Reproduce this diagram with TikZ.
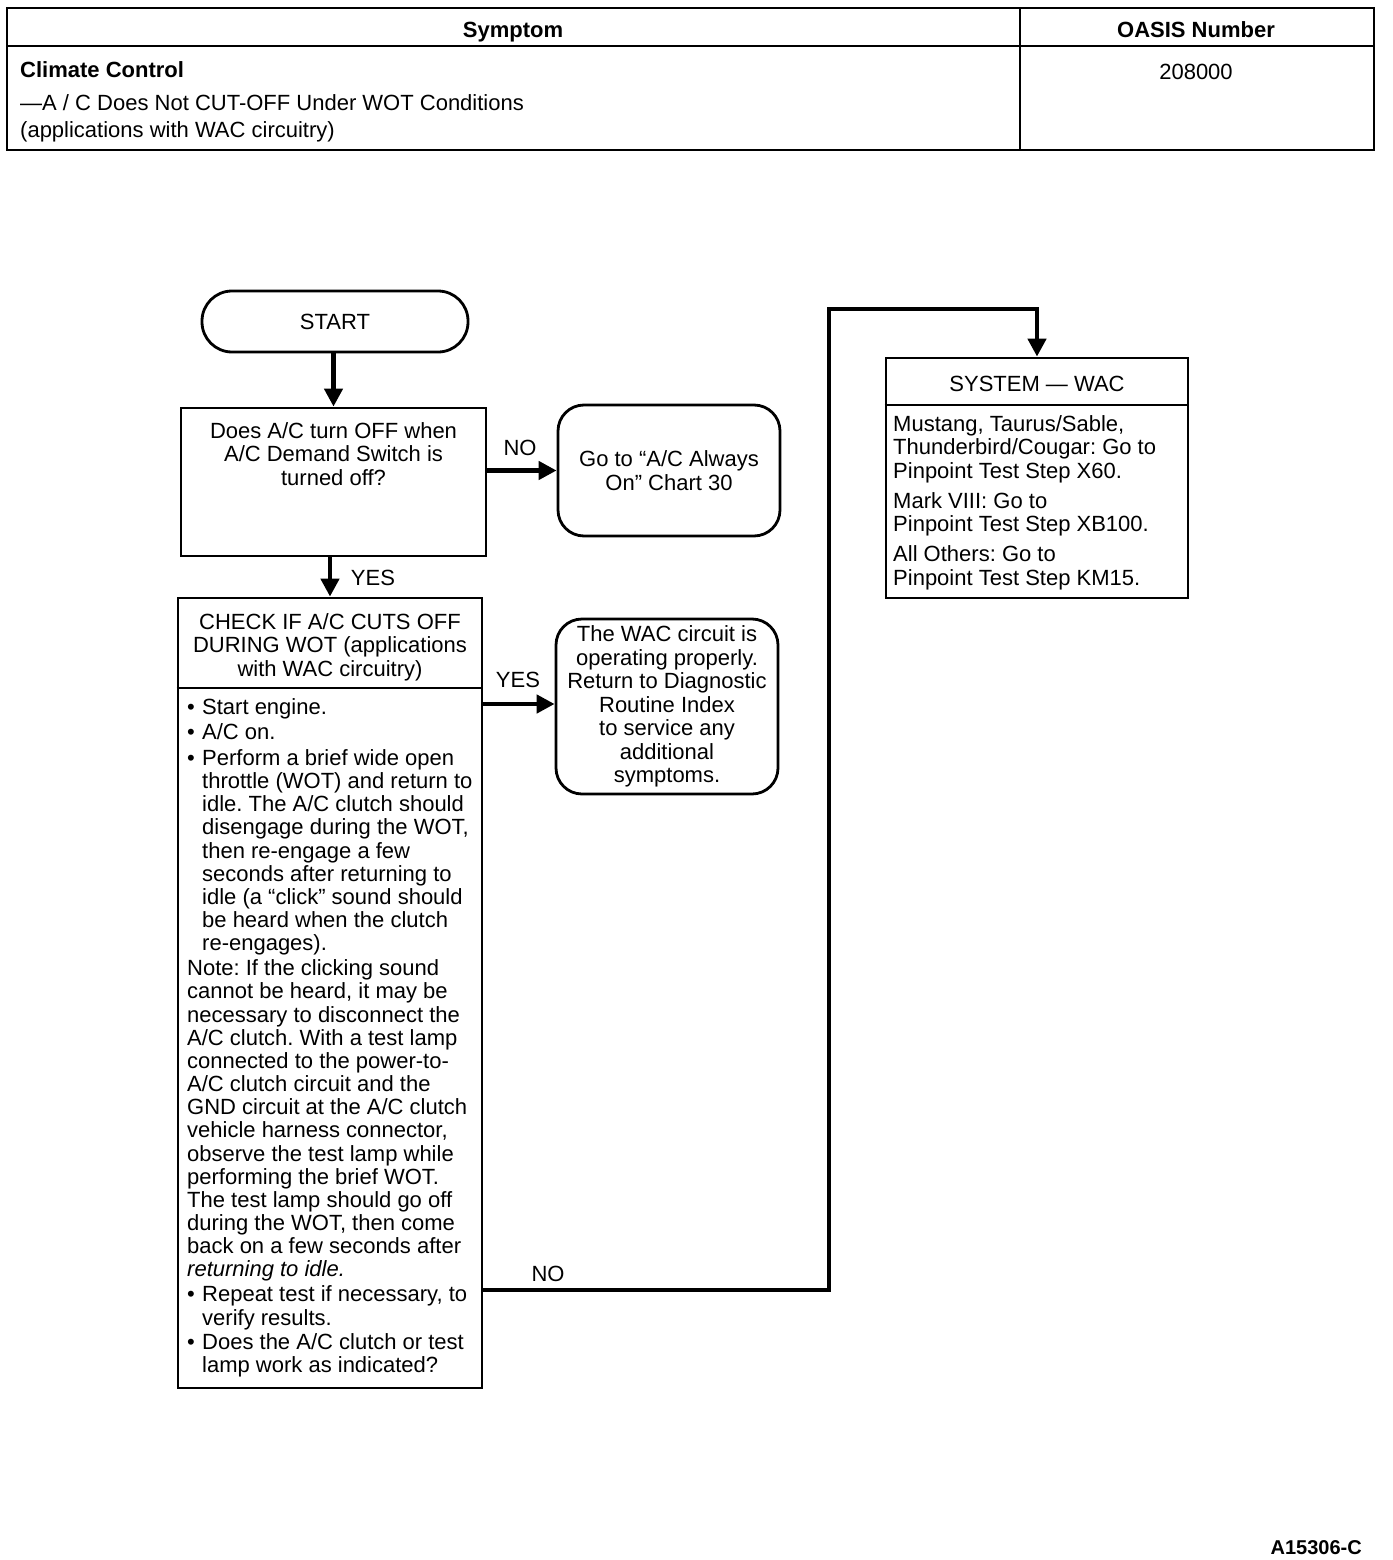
\documentclass[tikz,border=0pt]{standalone}
\usepackage{fontspec}
\setmainfont{Liberation Sans}
\usetikzlibrary{arrows.meta}
\frenchspacing
\newcommand\fs{\fontsize{22}{23.5}\selectfont}
\newcommand\fsb{\fontsize{22}{23.15}\selectfont}
\newcommand\bul{\makebox[15pt][l]{•}}
\newcommand\ind{\hspace*{15pt}}
\begin{document}
\begin{tikzpicture}[x=1pt,y=-1pt,
  every node/.style={font=\fs, inner sep=0pt},
  frame/.style={line width=2.8pt},
  box/.style={draw, line width=2.8pt},
  rbox/.style={draw, line width=2.8pt, rounded corners=26pt},
  arr/.style={line width=4.5pt, -{Triangle[length=18pt,width=18pt]}},
  lbl/.style={font=\fs}
]
\fill[white] (0,0) rectangle (1392,1560);
\useasboundingbox (0,0) rectangle (1392,1560);

% table
\draw[frame] (7,8) rectangle (1374,150);
\draw[frame] (7,46) -- (1374,46);
\draw[frame] (1020,8) -- (1020,150);
\node[anchor=base, font=\fs\bfseries] (hsym) at (513,38) {Symptom};
\node[anchor=base, font=\fs\bfseries] (hoasis) at (1196,38) {OASIS Number};
\node[anchor=base west, font=\fs\bfseries] (cc) at (20,78) {Climate Control};
\node[anchor=base west] (cc2) at (20,111) {—A / C Does Not CUT-OFF Under WOT Conditions};
\node[anchor=base west] (cc3) at (20,138) {(applications with WAC circuitry)};
\node[anchor=base] (num) at (1196,80) {208000};

% flowchart
\node[draw, line width=2.8pt, rounded corners=30pt, minimum width=266pt, minimum height=61pt] (start) at (335,321.5) {START};

\node[box, minimum width=305pt, minimum height=148pt] (q1) at (333.5,482) {};
\node[anchor=north, align=center] (q1t) at (333.5,422) {Does A/C turn OFF when\\A/C Demand Switch is\\turned off?};

\node[rbox, minimum width=222pt, minimum height=131pt, align=center] (goto) at (669,470.5) {Go to “A/C Always\\On” Chart 30};

\node[box, minimum width=304pt, minimum height=790pt] (q2) at (330,993) {};
\node[anchor=north, align=center] (q2t) at (330,613) {CHECK IF A/C CUTS OFF\\DURING WOT (applications\\with WAC circuitry)};
\coordinate (d2) at (0,688);
\draw[frame] (q2.west |- d2) -- (q2.east |- d2);
\node[anchor=north west, align=left, font=\fsb] (q2b) at (187,698) {%
\bul Start engine.\\[2.5pt]
\bul A/C on.\\[2.5pt]
\bul Perform a brief wide open\\
\ind throttle (WOT) and return to\\
\ind idle. The A/C clutch should\\
\ind disengage during the WOT,\\
\ind then re-engage a few\\
\ind seconds after returning to\\
\ind idle (a “click” sound should\\
\ind be heard when the clutch\\
\ind re-engages).\\[2pt]
Note: If the clicking sound\\
cannot be heard, it may be\\
necessary to disconnect the\\
A/C clutch. With a test lamp\\
connected to the power-to-\\
A/C clutch circuit and the\\
GND circuit at the A/C clutch\\
vehicle harness connector,\\
observe the test lamp while\\
performing the brief WOT.\\
The test lamp should go off\\
during the WOT, then come\\
back on a few seconds after\\
\textit{returning to idle.}\\[2pt]
\bul Repeat test if necessary, to\\
\ind verify results.\\[1pt]
\bul Does the A/C clutch or test\\
\ind lamp work as indicated?};

\node[rbox, minimum width=222pt, minimum height=175pt, align=center] (ok) at (667,706.5) {The WAC circuit is\\operating properly.\\Return to Diagnostic\\Routine Index\\to service any\\additional\\symptoms.};

\node[box, minimum width=302pt, minimum height=240pt] (sys) at (1037,478) {};
\node[anchor=base] (syst) at (1037,391) {SYSTEM — WAC};
\coordinate (d4) at (0,405);
\draw[frame] (sys.west |- d4) -- (sys.east |- d4);
\node[anchor=north west, align=left] (sysb) at (893,415) {%
Mustang, Taurus/Sable,\\
Thunderbird/Cougar: Go to\\
Pinpoint Test Step X60.\\[6.5pt]
Mark VIII: Go to\\
Pinpoint Test Step XB100.\\[6.5pt]
All Others: Go to\\
Pinpoint Test Step KM15.};

% connectors
\draw[arr] (start.south -| q1.north) -- (q1.north);
\draw[arr] (q1.east |- goto.west) -- (goto.west);
\node[lbl] (lno1) at (520,448) {NO};
\draw[arr] (q2.north |- q1.south) -- (q2.north);
\node[lbl] (lyes1) at (373,578) {YES};
\coordinate (y2) at (0,704);
\draw[arr] (q2.east |- y2) -- (ok.west |- y2);
\node[lbl] (lyes2) at (518,680) {YES};
\coordinate (c1) at (829,1290);
\coordinate (c2) at (829,309);
\draw[arr] (q2.east |- c1) -- (c1) -- (c2) -| (sys.north);
\node[lbl] (lno2) at (548,1274) {NO};

\node[anchor=base east, font=\fontsize{20}{22}\selectfont\bfseries] (fig) at (1362,1554) {A15306-C};
\end{tikzpicture}
\end{document}
